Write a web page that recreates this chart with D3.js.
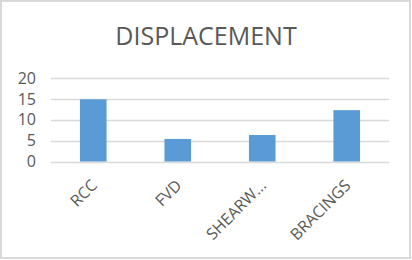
<!DOCTYPE html>
<html>
<head>
<meta charset="utf-8">
<script src="https://cdn.jsdelivr.net/npm/d3@7"></script>
<style>
  body { margin: 0; background: #fff; }
  text { font-family: "Open Sans", "Noto Sans", sans-serif; fill: #595959; }
</style>
</head>
<body>
<script>
var categories = ['RCC', 'FVD', 'SHEARW...', 'BRACINGS'],
    values = [14.9, 5.4, 6.35, 12.3],
    yTicks = [0, 5, 10, 15, 20];

var W = 412, H = 260,
    margin = { top: 78, right: 23, bottom: 98.5, left: 51 },
    width = W - margin.left - margin.right,
    height = H - margin.top - margin.bottom;

var svg = d3.select('body').append('svg')
    .attr('width', W)
    .attr('height', H);

// outer frame
svg.append('rect')
    .attr('x', 1).attr('y', 1)
    .attr('width', 409).attr('height', 257)
    .attr('fill', '#fff')
    .attr('stroke', '#d9d9d9')
    .attr('stroke-width', 2);

svg.append('text')
    .attr('x', 206)
    .attr('y', 45)
    .attr('text-anchor', 'middle')
    .style('font-size', '25px')
    .text('DISPLACEMENT');

var g = svg.append('g')
    .attr('transform', 'translate(' + margin.left + ',' + margin.top + ')');

var x = d3.scaleBand()
    .domain(categories)
    .range([0, width])
    .paddingInner(0.685)
    .paddingOuter(0.3425);

var y = d3.scaleLinear()
    .domain([0, 20])
    .range([height, 0]);

// gridlines
g.append('g')
    .selectAll('line')
    .data(yTicks)
    .enter().append('line')
     .attr('x1', 0)
     .attr('x2', width)
     .attr('y1', function(d) { return Math.round(y(d)) + 0.5; })
     .attr('y2', function(d) { return Math.round(y(d)) + 0.5; })
     .attr('stroke', '#d9d9d9')
     .attr('stroke-width', 1.5);

g.selectAll('.bar')
    .data(values)
    .enter().append('rect')
     .attr('class', 'bar')
     .attr('x', function(d, i) { return x(categories[i]); })
     .attr('width', x.bandwidth())
     .attr('y', function(d) { return y(d); })
     .attr('height', function(d) { return y(0) - y(d); })
     .attr('fill', '#5b9bd5');

var yAxis = d3.axisLeft(y)
    .tickValues(yTicks)
    .tickSize(0)
    .tickPadding(15);

g.append('g')
    .call(yAxis)
    .call(function(a) { a.select('.domain').remove(); })
    .selectAll('text')
     .style('font-size', '16px')
     .attr('fill', '#595959');

var xAxis = d3.axisBottom(x).tickSize(0).tickPadding(0);

g.append('g')
    .attr('transform', 'translate(0,' + height + ')')
    .call(xAxis)
    .call(function(a) { a.select('.domain').remove(); })
    .selectAll('text')
     .style('font-size', '16px')
     .attr('fill', '#595959')
     .attr('text-anchor', 'end')
     .attr('dy', '0.35em')
     .attr('transform', 'translate(1,21) rotate(-45)');
</script>
</body>
</html>
